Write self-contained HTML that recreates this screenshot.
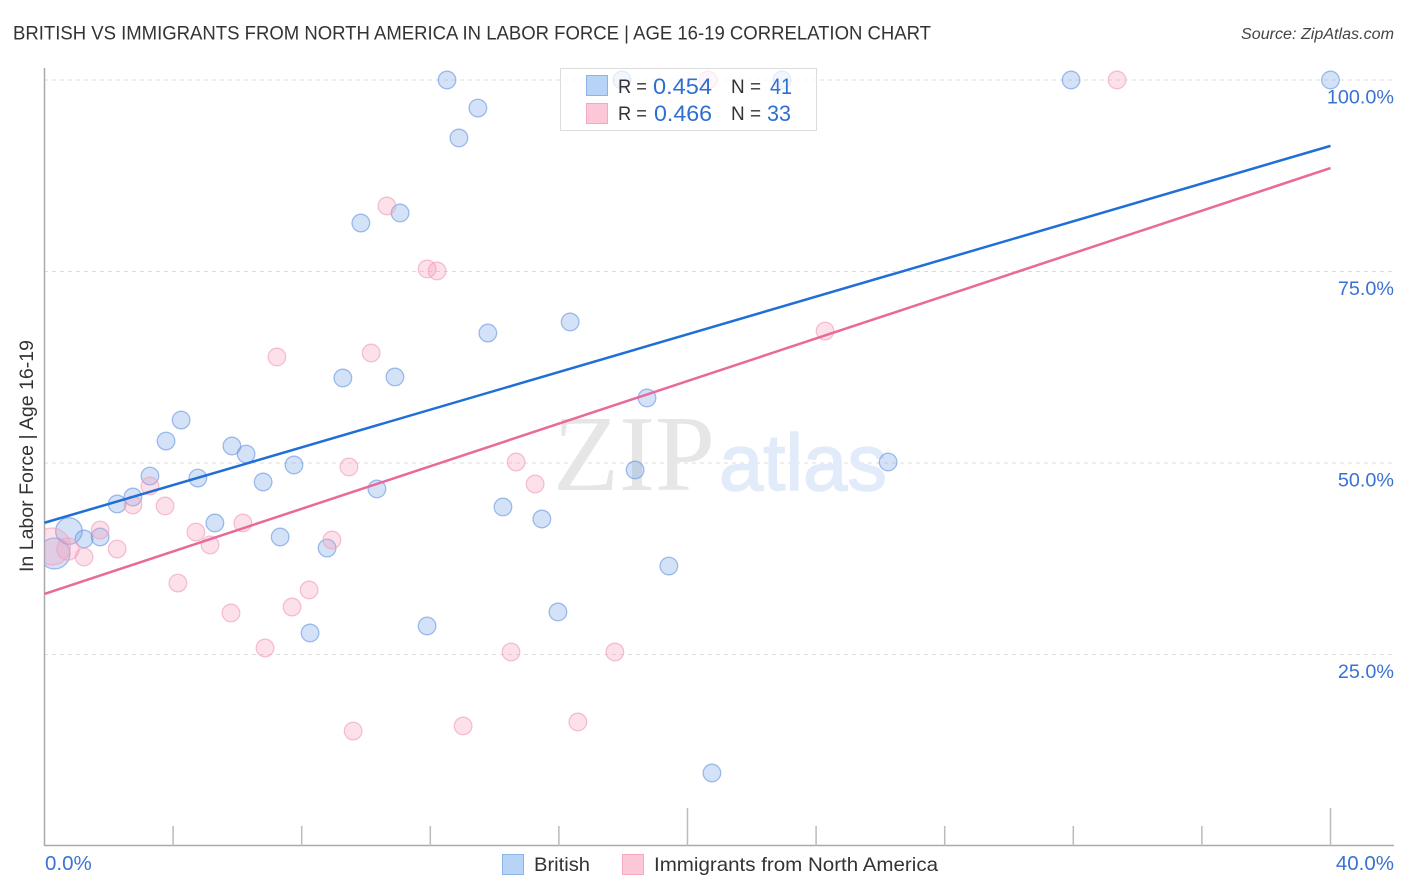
<!DOCTYPE html>
<html>
<head>
<meta charset="utf-8">
<title>British vs Immigrants from North America in Labor Force | Age 16-19 Correlation Chart</title>
<style>
html,body{margin:0;padding:0;background:#fff;width:1406px;height:892px;overflow:hidden}
svg{display:block}
text{font-family:"Liberation Sans",sans-serif}
</style>
</head>
<body>
<svg id="chart" width="1406" height="892" viewBox="0 0 1406 892" xmlns="http://www.w3.org/2000/svg">
  <defs>
    <clipPath id="plot-clip"><rect x="44.5" y="60" width="1360" height="786"/></clipPath>
  </defs>
  <text x="13" y="39.5" font-size="19.8" fill="#333" textLength="918" lengthAdjust="spacingAndGlyphs">BRITISH VS IMMIGRANTS FROM NORTH AMERICA IN LABOR FORCE | AGE 16-19 CORRELATION CHART</text>
  <text x="1241" y="39" font-size="15.5" font-style="italic" fill="#444" textLength="153" lengthAdjust="spacingAndGlyphs">Source: ZipAtlas.com</text>

  <g id="grid"></g>

  <g>
    <text x="553" y="490" font-size="108" fill="#e6e6e6" textLength="162" lengthAdjust="spacingAndGlyphs" style="font-family:'Liberation Serif',serif">ZIP</text>
    <text x="719" y="490" font-size="80" fill="#e2ebf9" stroke="#e2ebf9" stroke-width="1.5" textLength="168" lengthAdjust="spacingAndGlyphs">atlas</text>
  </g>

  <g id="axes"></g>
  <g clip-path="url(#plot-clip)">
    <g id="points-british"></g>
    <g id="points-immigrants"></g>
  </g>
  <g id="trends"></g>
  <g id="tick-labels"></g>

  <text transform="translate(33,456) rotate(-90)" font-size="19" fill="#333" text-anchor="middle" textLength="232" lengthAdjust="spacingAndGlyphs">In Labor Force | Age 16-19</text>

  <g>
    <rect x="560.5" y="68.5" width="256" height="62" fill="#fff" fill-opacity="0.72" stroke="#dcdcdc" stroke-width="1"/>
    <rect x="586.5" y="75.5" width="21" height="20" fill="#b7d3f6" stroke="#8db4ea" stroke-width="1"/>
    <rect x="586.5" y="103.5" width="21" height="20" fill="#fcc8d8" stroke="#f5a9c0" stroke-width="1"/>
    <text x="618" y="93" font-size="19.5" fill="#333" textLength="29" lengthAdjust="spacingAndGlyphs">R =</text>
    <text x="653" y="94" font-size="22" fill="#2f6fd0" textLength="59" lengthAdjust="spacingAndGlyphs">0.454</text>
    <text x="731" y="93" font-size="19.5" fill="#333" textLength="30" lengthAdjust="spacingAndGlyphs">N =</text>
    <text x="770" y="94" font-size="22" fill="#2f6fd0" textLength="22" lengthAdjust="spacingAndGlyphs">41</text>
    <text x="618" y="120" font-size="19.5" fill="#333" textLength="29" lengthAdjust="spacingAndGlyphs">R =</text>
    <text x="654" y="121" font-size="22" fill="#2f6fd0" textLength="58" lengthAdjust="spacingAndGlyphs">0.466</text>
    <text x="731" y="120" font-size="19.5" fill="#333" textLength="30" lengthAdjust="spacingAndGlyphs">N =</text>
    <text x="767" y="121" font-size="22" fill="#2f6fd0" textLength="24" lengthAdjust="spacingAndGlyphs">33</text>
  </g>

  <g>
    <rect x="502.5" y="854.5" width="21" height="20" fill="#b7d3f6" stroke="#8db4ea" stroke-width="1"/>
    <text x="534" y="871" font-size="19.5" fill="#333" textLength="56" lengthAdjust="spacingAndGlyphs">British</text>
    <rect x="622.5" y="854.5" width="21" height="20" fill="#fcc8d8" stroke="#f5a9c0" stroke-width="1"/>
    <text x="654" y="871" font-size="19.5" fill="#333" textLength="284" lengthAdjust="spacingAndGlyphs">Immigrants from North America</text>
  </g>
</svg>
<script>
// ----- Chart data (values in percent) -----
const xTickValues = [0, 4, 8, 12, 16, 20, 24, 28, 32, 36, 40];
const majorXTicks = [20, 40];
const yGridValues = [25, 50, 75, 100];
const yTickLabels = ['25.0%', '50.0%', '75.0%', '100.0%'];
const xEndLabels = ['0.0%', '40.0%'];

const britishX = [12.52,17.96,22.94,31.93,40,13.48,12.89,11.06,9.84,16.35,13.79,10.90,9.28,18.74,4.25,3.78,5.83,6.27,7.76,18.37,26.24,3.28,4.77,6.80,10.34,2.75,2.26,14.26,15.47,5.30,0.76,1.23,1.73,7.33,8.79,0.31,19.42,15.97,11.90,8.26,20.76];
const britishY = [100,100,100,100,100,96.34,92.43,82.64,81.33,68.41,66.97,61.23,61.10,58.49,55.61,52.87,52.22,51.17,49.74,49.09,50.13,48.30,48.04,47.52,46.61,45.56,44.65,44.26,42.69,42.17,41.12,40.08,40.34,40.34,38.90,38.19,36.55,30.55,28.72,27.81,9.53];
const britishWeight = [1,1,1,1,1,1,1,1,1,1,1,1,1,1,1,1,1,1,1,1,1,1,1,1,1,1,1,1,1,1,2.28,1,1,1,1,3.1,1,1,1,1,1];

const immigrantsX = [20.64,33.36,10.65,11.90,12.21,24.28,7.23,10.16,9.47,14.67,15.26,3.28,2.75,3.75,1.73,6.17,4.71,5.15,8.94,0.73,2.26,1.23,0.23,4.15,8.23,7.70,5.80,6.86,14.51,17.74,16.59,13.02,9.60];
const immigrantsY = [100,100,83.55,75.33,75.07,67.23,63.84,64.36,49.48,50.13,47.26,47.00,44.52,44.39,41.25,42.17,40.99,39.30,39.95,38.77,38.77,37.73,39.10,34.33,33.42,31.20,30.42,25.85,25.33,25.33,16.19,15.67,15.01];
const immigrantsWeight = [1,1,1,1,1,1,1,1,1,1,1,1,1,1,1,1,1,1,1,1.6,1,1,4.4,1,1,1,1,1,1,1,1,1,1];

const britishTrendY = [42.2, 91.4];
const immigrantsTrendY = [32.9, 88.5];
const trendX = [0, 40];

// ----- Axis functions -----
const sx = v => 44.5 + v * 32.15;
const sy = v => 846 - v * 7.66;
const NS = 'http://www.w3.org/2000/svg';
function make(tag, parent, attrs) {
  const el = document.createElementNS(NS, tag);
  for (const k in attrs) el.setAttribute(k, attrs[k]);
  parent.appendChild(el);
  return el;
}
const grid = document.getElementById('grid');
const axes = document.getElementById('axes');
const labels = document.getElementById('tick-labels');

yGridValues.forEach((v, i) => {
  const line = make('line', grid, {x1: 44, x2: 1394, y1: sy(v), y2: sy(v), stroke: '#dcdcdc', 'stroke-width': 1, 'stroke-dasharray': '4 4'});
  
  
  const t = make('text', labels, {x: 1394, y: sy(v) + 23.5, 'font-size': 19.8, fill: '#3a72d4', 'text-anchor': 'end'});
  t.textContent = yTickLabels[i];
  
  
});

const yAxis = make('line', axes, {x1: 44.5, x2: 44.5, y1: 68, y2: 846, stroke: '#aaa', 'stroke-width': 1.5});


const xAxis = make('line', axes, {x1: 44, x2: 1394, y1: 845.5, y2: 845.5, stroke: '#aaa', 'stroke-width': 1.5});



xTickValues.slice(1).forEach(v => {
  const top = majorXTicks.includes(v) ? 808 : 826;
  const tick = make('line', axes, {x1: sx(v), x2: sx(v), y1: top, y2: 846, stroke: '#bbb', 'stroke-width': 1.5});
  
  
});

const x0 = make('text', labels, {x: 45, y: 870, 'font-size': 20.5, fill: '#3a72d4'});
x0.textContent = xEndLabels[0];


const x1 = make('text', labels, {x: 1394, y: 870, 'font-size': 20.5, fill: '#3a72d4', 'text-anchor': 'end'});
x1.textContent = xEndLabels[1];



function drawPoints(groupId, xs, ys, weights, fill, stroke, name) {
  const g = document.getElementById(groupId);
  xs.forEach((x, i) => {
    const c = make('circle', g, {cx: sx(x), cy: sy(ys[i]), r: 8.8 * Math.sqrt(weights[i]), fill: fill, 'fill-opacity': 0.3, stroke: stroke, 'stroke-opacity': 0.65, 'stroke-width': 1.3});
    
    
  });
}
drawPoints('points-british', britishX, britishY, britishWeight, '#6f9fe8', '#6f9be0', 'british-point');
drawPoints('points-immigrants', immigrantsX, immigrantsY, immigrantsWeight, '#f59ab8', '#f3a0bc', 'immigrants-point');

const trends = document.getElementById('trends');
const blueTrend = make('line', trends, {x1: sx(trendX[0]), x2: sx(trendX[1]), y1: sy(britishTrendY[0]), y2: sy(britishTrendY[1]), stroke: '#1f6fd6', 'stroke-width': 2.5});


const pinkTrend = make('line', trends, {x1: sx(trendX[0]), x2: sx(trendX[1]), y1: sy(immigrantsTrendY[0]), y2: sy(immigrantsTrendY[1]), stroke: '#e8699a', 'stroke-width': 2.5});


</script>
</body>
</html>
